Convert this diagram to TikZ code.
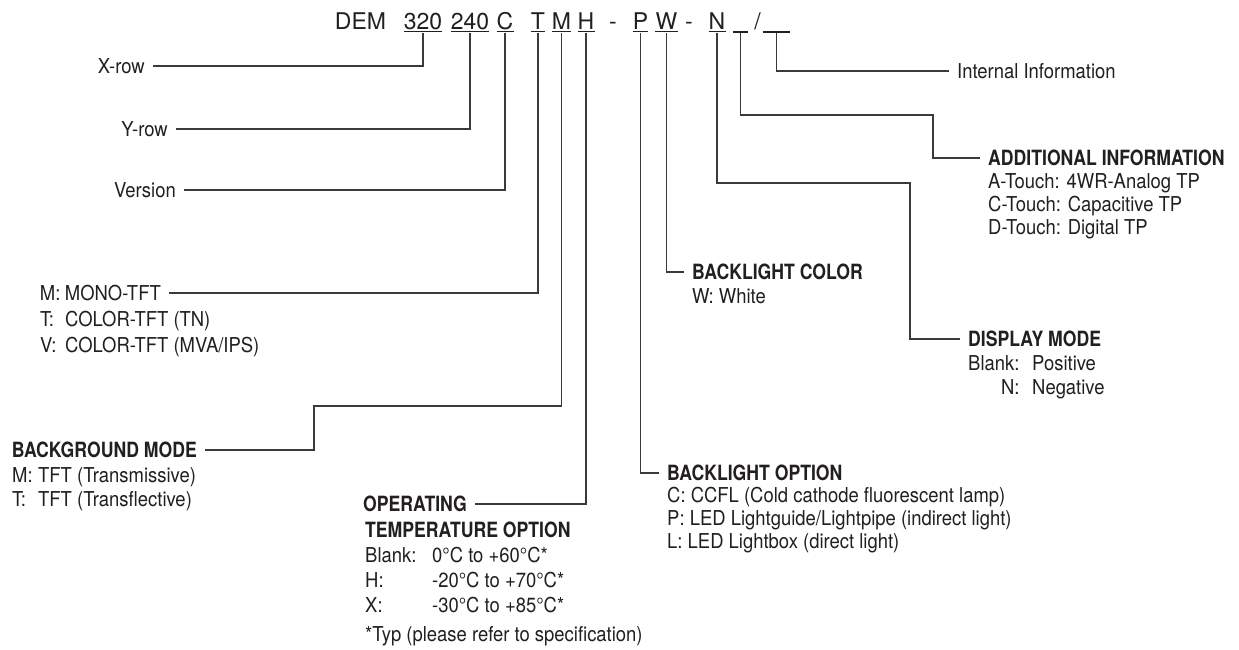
\documentclass[tikz,border=0pt]{standalone}
\usepackage{fontspec}
\setmainfont{TeX Gyre Heros}
\newfontfamily\lblfont{TeX Gyre Heros}[FakeStretch=0.9]
\newfontfamily\hdfont{TeX Gyre Heros}[FakeStretch=0.84]
\definecolor{ink}{HTML}{231F20}
\definecolor{wire}{HTML}{3A3A3A}
\begin{document}
\begin{tikzpicture}[x=1bp,y=-1bp,
  every node/.style={text=ink, inner sep=0pt, font=\lblfont\fontsize{20.5bp}{24bp}\selectfont},
  code/.style={anchor=base, text depth=0pt, font=\rmfamily\fontsize{23bp}{27bp}\selectfont},
  lbl/.style={inner xsep=8bp, inner ysep=0pt, text height=14.7bp, text depth=0pt},
  hd/.style={lbl, text height=15.1bp, font=\hdfont\bfseries\fontsize{21bp}{24bp}\selectfont},
  body/.style={anchor=base west},
  bodyhd/.style={anchor=base west, font=\hdfont\bfseries\fontsize{21bp}{24bp}\selectfont},
  conn/.style={draw=wire, line width=1.1bp},
  uline/.style={draw=ink, line width=1.1bp},
]
\fill[white] (0,0) rectangle (1239,650);
\useasboundingbox (0,0) rectangle (1239,650);

% code line
\node[code] (cdem) at (360.5,29.3) {DEM};
\node[code] (c320) at (423,29.3) {320};
\node[code] (c240) at (470,29.3) {240};
\node[code] (cc) at (505,29.3) {C};
\node[code] (ct) at (538,29.3) {T};
\node[code] (cm) at (561.5,29.3) {M};
\node[code] (ch) at (586,29.3) {H};
\node[code] (cd1) at (613,29.3) {-};
\node[code] (cp) at (640.5,29.3) {P};
\node[code] (cw) at (666.5,29.3) {W};
\node[code] (cd2) at (689,29.3) {-};
\node[code] (cn) at (717,29.3) {N};
\node[code, minimum width=15bp] (cb1) at (740.5,29.3) {};
\node[code] (csl) at (757.5,29.3) {/};
\node[code, minimum width=27bp] (cb2) at (776.5,29.3) {};
\foreach \n in {c320,c240,cc,ct,cm,ch,cp,cw,cn,cb1,cb2}
  \draw[uline] ([yshift=-2bp]\n.south west) -- ([yshift=-2bp]\n.south east);

% left labels
\node[lbl, anchor=east] (xrow) at (153,66) {X-row};
\node[lbl, anchor=east] (yrow) at (176,129) {Y-row};
\node[lbl, anchor=east] (ver) at (184,190) {Version};
\node[lbl, anchor=east] (mono) at (169,293) {\makebox[25bp][l]{M:}MONO-TFT};
\node[body] (monot) at (40,326.4) {\makebox[25bp][l]{T:}COLOR-TFT (TN)};
\node[body] (monov) at (40,352.4) {\makebox[25bp][l]{V:}COLOR-TFT (MVA/IPS)};

\node[hd, anchor=east] (bg) at (205,450) {BACKGROUND MODE};
\coordinate (bgbend) at (314,406);
\node[body] (bgm) at (12,482.4) {\makebox[26bp][l]{M:}TFT (Transmissive)};
\node[body] (bgt) at (12,506.4) {\makebox[26bp][l]{T:}TFT (Transflective)};

\node[hd, anchor=east] (oper) at (475,504) {OPERATING};
\node[bodyhd] (temp) at (365,537.5) {TEMPERATURE OPTION};
\node[body] (tb) at (365,562.4) {\makebox[67bp][l]{Blank:}0°C to +60°C*};
\node[body] (th) at (365,587.4) {\makebox[67bp][l]{H:}-20°C to +70°C*};
\node[body] (tx) at (365,612.4) {\makebox[67bp][l]{X:}-30°C to +85°C*};
\node[body] (typ) at (365,641) {*Typ (please refer to specification)};

% right labels
\node[lbl, anchor=west] (intl) at (949,71) {Internal Information};

\node[hd, anchor=west] (addl) at (980,158) {ADDITIONAL INFORMATION};
\coordinate (addlbend) at (933,115);
\node[body] (addla) at (988,188.4) {A-Touch: 4WR-Analog TP};
\node[body] (addlc) at (988,211.4) {C-Touch: Capacitive TP};
\node[body] (addld) at (988,234.4) {D-Touch: Digital TP};

\node[hd, anchor=west] (disp) at (960,339) {DISPLAY MODE};
\coordinate (dispbend) at (910,183);
\node[body] (dispb) at (968,370.4) {\makebox[64bp][l]{Blank:}Positive};
\node[body] (dispn) at (968,394.4) {\makebox[64bp][l]{\hphantom{Blank:}\llap{N:}}Negative};

\node[hd, anchor=west] (blcol) at (684,272) {BACKLIGHT COLOR};
\node[body] (blcolw) at (692,303.4) {W: White};

\node[hd, anchor=west] (blopt) at (659,473) {BACKLIGHT OPTION};
\node[body] (bloptc) at (667,502.4) {C: CCFL (Cold cathode fluorescent lamp)};
\node[body] (bloptp) at (667,525.4) {P: LED Lightguide/Lightpipe (indirect light)};
\node[body] (bloptl) at (667,548.4) {L: LED Lightbox (direct light)};

% connectors
\draw[conn] ([yshift=-3.5bp]c320.south) |- (xrow.east);
\draw[conn] ([yshift=-3.5bp]c240.south) |- (yrow.east);
\draw[conn] ([yshift=-3.5bp]cc.south) |- (ver.east);
\draw[conn] ([yshift=-3.5bp]ct.south) |- (mono.east);
\draw[conn] ([yshift=-3.5bp]cm.south) |- (bgbend) |- (bg.east);
\draw[conn] ([yshift=-3.5bp]ch.south) |- (oper.east);
\draw[conn] ([yshift=-3.5bp]cp.south) |- (blopt.west);
\draw[conn] ([yshift=-3.5bp]cw.south) |- (blcol.west);
\draw[conn] ([yshift=-3.5bp]cn.south) |- (dispbend) |- (disp.west);
\draw[conn] ([yshift=-3.5bp]cb1.south) |- (addlbend) |- (addl.west);
\draw[conn] ([yshift=-3.5bp]cb2.south) |- (intl.west);
\end{tikzpicture}
\end{document}
